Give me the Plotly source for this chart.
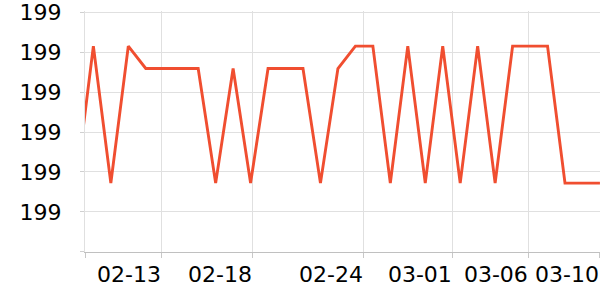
import plotly.graph_objects as go

# Data (daily values)
dates = [
    "2023-02-08", "2023-02-09", "2023-02-10", "2023-02-11", "2023-02-12",
    "2023-02-13", "2023-02-14", "2023-02-15", "2023-02-16", "2023-02-17",
    "2023-02-18", "2023-02-19", "2023-02-20", "2023-02-21", "2023-02-22",
    "2023-02-23", "2023-02-24", "2023-02-25", "2023-02-26", "2023-02-27",
    "2023-02-28", "2023-03-01", "2023-03-02", "2023-03-03", "2023-03-04",
    "2023-03-05", "2023-03-06", "2023-03-07", "2023-03-08", "2023-03-09",
    "2023-03-10",
]
values = [
    199.4163, 199.4515, 199.4172, 199.4515, 199.4459,
    199.4459, 199.4459, 199.4459, 199.4172, 199.4459,
    199.4172, 199.4459, 199.4459, 199.4459, 199.4172,
    199.4459, 199.4515, 199.4515, 199.4172, 199.4515,
    199.4172, 199.4515, 199.4172, 199.4515, 199.4172,
    199.4515, 199.4515, 199.4515, 199.4172, 199.4172,
    199.4172,
]

# Axis ticks
x_tick_vals = [
    "2023-02-08 12:40", "2023-02-12 22:15", "2023-02-18 03:16",
    "2023-02-24 11:46", "2023-03-01 13:55", "2023-03-05 22:21",
    "2023-03-10 00:00",
]
x_tick_text = ["", "02-13", "02-18", "02-24", "03-01", "03-06", "03-10"]
y_tick_vals = [199.40, 199.41, 199.42, 199.43, 199.44, 199.45, 199.46]
y_tick_text = ["", "199", "199", "199", "199", "199", "199"]

fig = go.Figure()
fig.add_trace(go.Scatter(
    x=dates, y=values, mode="lines",
    line=dict(color="#F04E30", width=2.9),
    hoverinfo="skip",
))

font = dict(family="DejaVu Sans", size=22, color="#000000")

fig.update_layout(
    width=600, height=300,
    margin=dict(l=85, r=0, t=9, b=48),
    paper_bgcolor="white", plot_bgcolor="white",
    showlegend=False,
    font=font,
)
fig.update_xaxes(
    type="date",
    range=["2023-02-08 12:30", "2023-03-10 00:05"],
    tickmode="array", tickvals=x_tick_vals, ticktext=x_tick_text,
    ticklabelposition="outside left", tickangle=0,
    ticklabeloverflow="allow", ticklabelstandoff=3,
    ticks="outside", ticklen=5, tickcolor="#c8c8c8",
    showgrid=True, gridcolor="#e0e0e0", gridwidth=1,
    showline=True, linecolor="#c0c0c0", linewidth=1,
    zeroline=False, tickfont=font,
)
fig.update_yaxes(
    range=[199.39995, 199.4603],
    tickmode="array", tickvals=y_tick_vals, ticktext=y_tick_text,
    ticklabeloverflow="allow",
    ticks="outside", ticklen=4, tickcolor="#d0d0d0",
    showgrid=True, gridcolor="#e0e0e0", gridwidth=1,
    showline=True, linecolor="#e0e0e0", linewidth=1,
    zeroline=False, tickfont=font, ticklabelstandoff=14,
)

fig.write_html("out.html", config={"displayModeBar": False})
